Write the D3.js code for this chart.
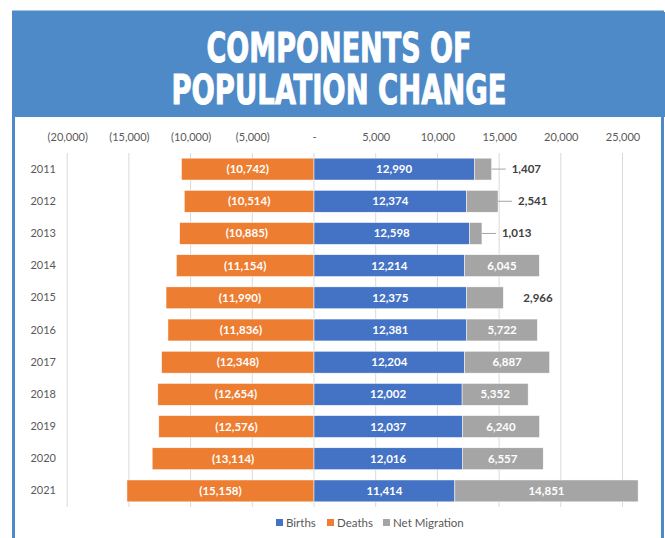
<!DOCTYPE html>
<html>
<head>
<meta charset="utf-8">
<script src="https://cdnjs.cloudflare.com/ajax/libs/d3/7.8.5/d3.min.js"></script>
<style>
  html, body { margin: 0; padding: 0; background: #fff; }
  svg { display: block; }
</style>
</head>
<body>
<svg id="canvas"></svg>
<script>
"use strict";

const years = ["2011", "2012", "2013", "2014", "2015", "2016", "2017", "2018", "2019", "2020", "2021"];
const deaths = [-10742, -10514, -10885, -11154, -11990, -11836, -12348, -12654, -12576, -13114, -15158];
const births = [12990, 12374, 12598, 12214, 12375, 12381, 12204, 12002, 12037, 12016, 11414];
const netMigration = [1407, 2541, 1013, 6045, 2966, 5722, 6887, 5352, 6240, 6557, 14851];
const tickValues = [-20000, -15000, -10000, -5000, 0, 5000, 10000, 15000, 20000, 25000];
const seriesNames = ["Births", "Deaths", "Net Migration"];
const seriesColors = ["#4472C4", "#ED7D31", "#A5A5A5"];

const width = 665;
const height = 538;

const canvas = d3.select("#canvas").attr("width", width).attr("height", height);

// frame + header
canvas.append("rect")
  .attr("x", 13.5).attr("y", 12).attr("width", 649).attr("height", 540)
  .attr("fill", "none").attr("stroke", "#4E89C8").attr("stroke-width", 3);
canvas.append("rect")
  .attr("x", 12).attr("y", 12).attr("width", 660).attr("height", 105)
  .attr("fill", "#4E89C8");

// title: one text, two lines
const title = canvas.append("text")
  .attr("text-anchor", "middle")
  .style("font-family", "'Liberation Sans Narrow', 'DejaVu Sans Condensed', sans-serif")
  .style("font-weight", "bold")
  .style("font-size", "41px")
  .attr("fill", "#fff")
  .attr("stroke", "#fff").attr("stroke-width", 1);
[["COMPONENTS OF", 62, 265], ["POPULATION CHANGE", 104, 335]].forEach(([txt, y, len]) => {
  title.append("tspan")
    .attr("x", 339).attr("y", y)
    .attr("textLength", len)
    .attr("lengthAdjust", "spacingAndGlyphs")
    .text(txt);
});

const xScale = d3.scaleLinear().domain([-20000, 25000]).range([67.2, 622.5]);
const yScale = d3.scaleBand().domain(years).range([153, 507]).paddingInner(0.32).paddingOuter(0.16);

const fmt = d3.format(",");
const axisFmt = (d) => d === 0 ? "-" : d < 0 ? `(${fmt(-d)})` : fmt(d);
const font = "Lato, 'Open Sans', sans-serif";

// gridlines
canvas.append("g")
  .selectAll("line")
  .data(tickValues)
  .enter()
  .append("line")
  .attr("x1", (d) => xScale(d)).attr("x2", (d) => xScale(d))
  .attr("y1", 153).attr("y2", 507)
  .attr("stroke", "#D9D9D9").attr("stroke-width", 1);

// top axis labels
const xAxis = d3.axisTop(xScale).tickValues(tickValues).tickFormat(axisFmt).tickSize(0).tickPadding(0);
const xg = canvas.append("g").attr("transform", "translate(0,141)").call(xAxis);
xg.select(".domain").remove();
xg.selectAll("text")
  .attr("dy", 0)
  .style("font-family", font).style("font-size", "11px").attr("fill", "#595959");

// year labels
const yAxis = d3.axisLeft(yScale).tickSize(0).tickPadding(0);
const yg = canvas.append("g").attr("transform", "translate(56,0)").call(yAxis);
yg.select(".domain").remove();
yg.selectAll("text")
  .style("font-family", font).style("font-size", "11px").attr("fill", "#595959");

const rows = years.map((y, i) => ({ year: y, d: deaths[i], b: births[i], m: netMigration[i] }));
const segments = [];
rows.forEach((r) => {
  segments.push({ year: r.year, x0: r.d, x1: 0, color: seriesColors[1], label: `(${fmt(-r.d)})`, inside: true });
  segments.push({ year: r.year, x0: 0, x1: r.b, color: seriesColors[0], label: fmt(r.b), inside: true });
  segments.push({ year: r.year, x0: r.b, x1: r.b + r.m, color: seriesColors[2], label: fmt(r.m), inside: r.m > 4000 });
});

canvas.append("g")
  .selectAll("rect")
  .data(segments)
  .enter()
  .append("rect")
  .attr("x", (s) => xScale(s.x0))
  .attr("width", (s) => xScale(s.x1) - xScale(s.x0))
  .attr("y", (s) => yScale(s.year))
  .attr("height", yScale.bandwidth())
  .attr("fill", (s) => s.color)
  .attr("stroke", "#fff").attr("stroke-width", 0.5);

const labels = canvas.append("g");
segments.forEach((s) => {
  const cy = yScale(s.year) + yScale.bandwidth() / 2;
  if (s.inside) {
    labels.append("text")
      .attr("x", (xScale(s.x0) + xScale(s.x1)) / 2)
      .attr("y", cy).attr("dy", "0.35em")
      .attr("text-anchor", "middle")
      .style("font-family", font).style("font-size", "11.5px").style("font-weight", "bold")
      .attr("fill", "#fff")
      .text(s.label);
  } else {
    const end = xScale(s.x1);
    if (s.year !== "2015") {
      labels.append("line")
        .attr("x1", end).attr("x2", end + 14)
        .attr("y1", cy).attr("y2", cy)
        .attr("stroke", "#A5A5A5").attr("stroke-width", 1);
    }
    labels.append("text")
      .attr("x", end + 20)
      .attr("y", cy).attr("dy", "0.35em")
      .style("font-family", font).style("font-size", "11.5px").style("font-weight", "bold")
      .attr("fill", "#404040")
      .text(s.label);
  }
});

// legend
const legendX = [276, 327, 383];
const legend = canvas.append("g");
seriesNames.forEach((n, i) => {
  legend.append("rect")
    .attr("x", legendX[i]).attr("y", 519).attr("width", 7).attr("height", 7)
    .attr("fill", seriesColors[i]);
  legend.append("text")
    .attr("x", legendX[i] + 10).attr("y", 523).attr("dy", "0.35em")
    .style("font-family", font).style("font-size", "11.5px")
    .attr("fill", "#595959")
    .text(n);
});
</script>
</body>
</html>
